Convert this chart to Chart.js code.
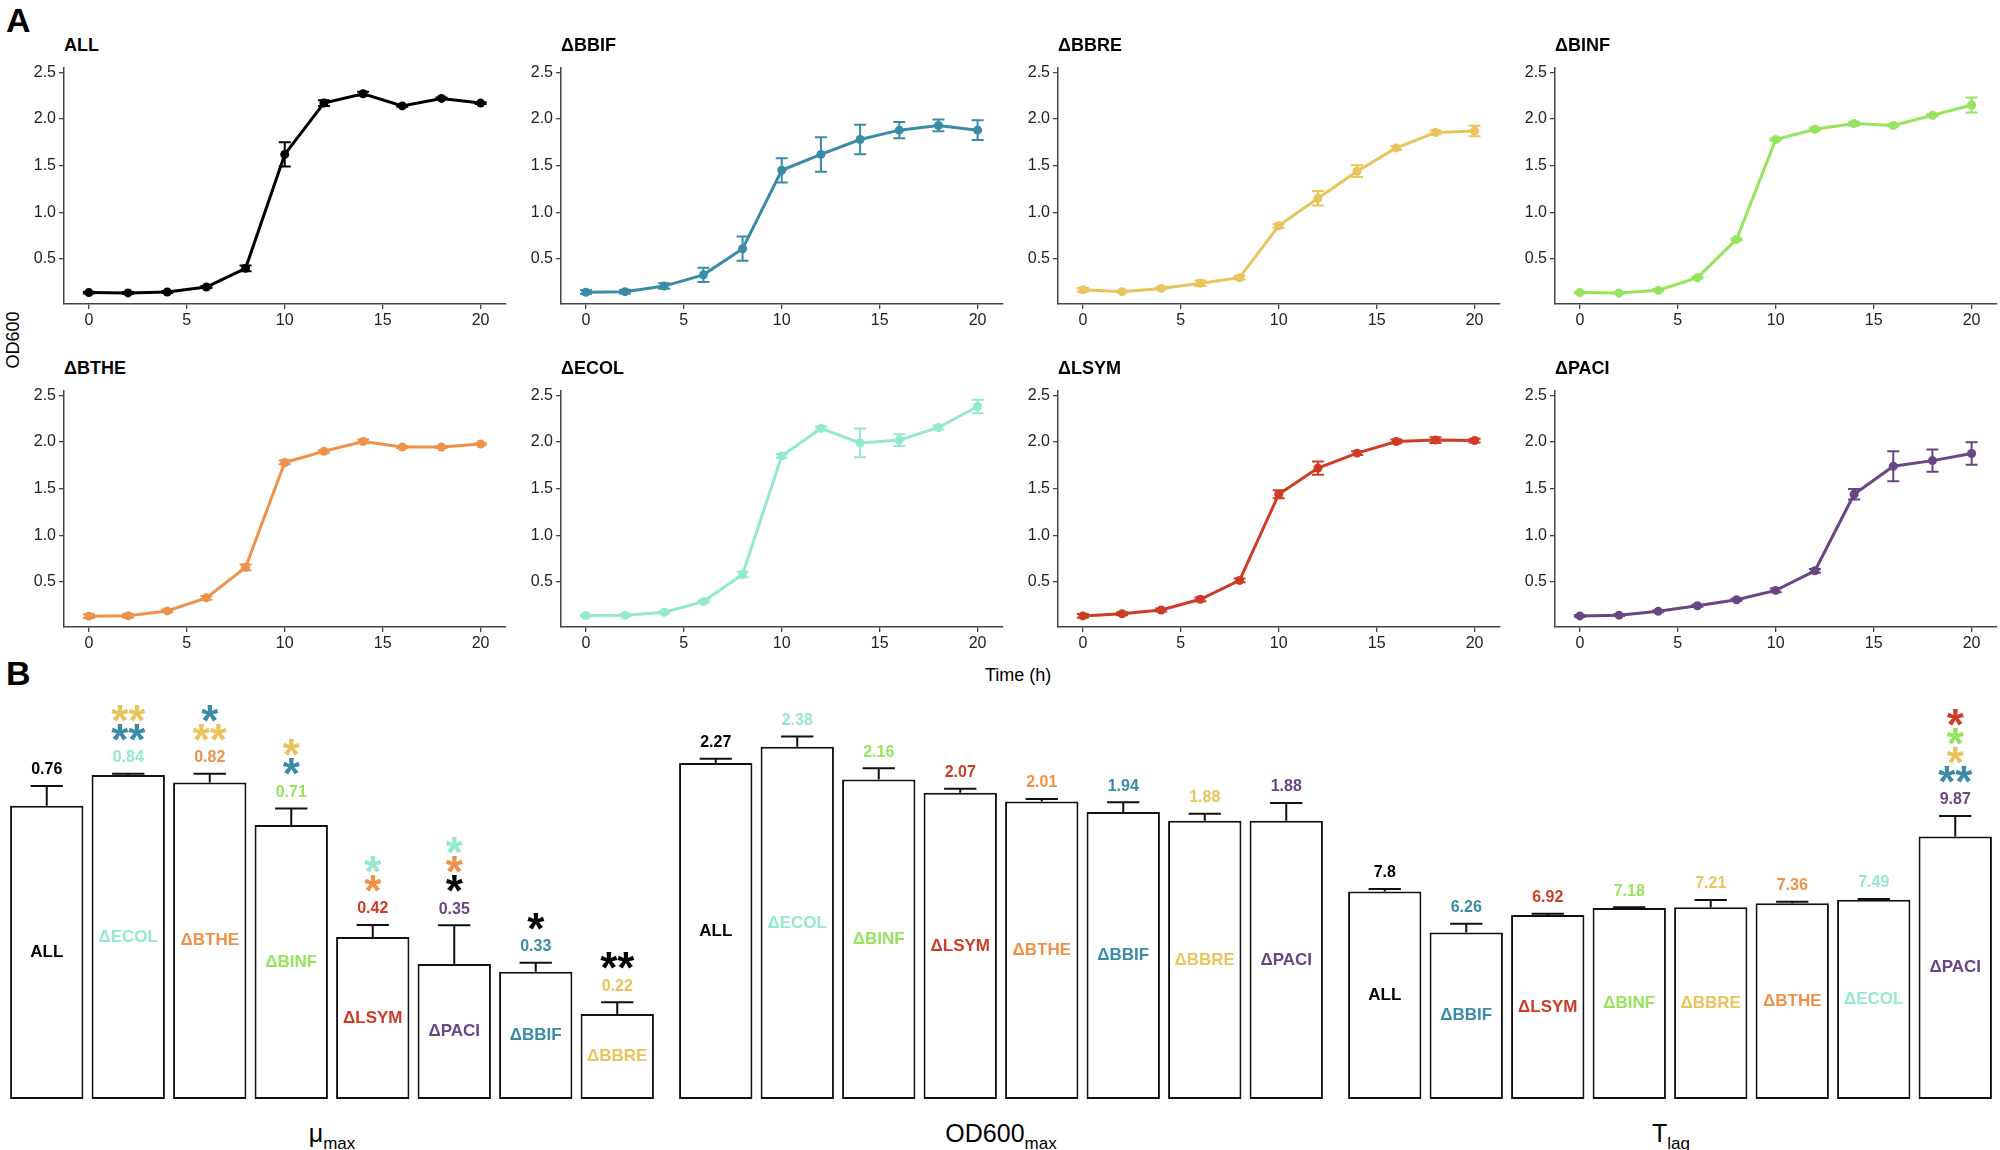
<!DOCTYPE html>
<html>
<head>
<meta charset="utf-8">
<script src="https://cdn.jsdelivr.net/npm/chart.js@4.4.1/dist/chart.umd.min.js"></script>
<style>
body{margin:0;background:#fff;font-family:"Liberation Sans",Arial,sans-serif;}
#fig{position:relative;width:2000px;height:1150px;overflow:hidden;background:#fff;}
#fig canvas{position:absolute;}
.t{position:absolute;white-space:nowrap;color:#000;line-height:1;}
.big{font-size:34px;font-weight:bold;}
.ttl{font-size:18px;font-weight:bold;}
.glab{font-size:25px;transform:translateX(-50%);}
.glab span{font-size:17px;position:relative;top:7px;}
</style>
</head>
<body>
<div id="fig">
  <div class="t big" style="left:6px;top:3px">A</div>
  <div class="t big" style="left:6px;top:656px">B</div>
  <div class="t" style="left:985px;top:666px;font-size:18px">Time (h)</div>
  <div class="t" style="left:-16px;top:331px;font-size:18px;transform:rotate(-90deg)">OD600</div>
  <div class="t glab" style="left:332px;top:1121px">μ<span>max</span></div>
  <div class="t glab" style="left:1001px;top:1121px">OD600<span>max</span></div>
  <div class="t glab" style="left:1671px;top:1121px">T<span>lag</span></div>
</div>
<script>
// ---------- growth curves (panel A) ----------
const timeH = [0, 2, 4, 6, 8, 10, 12, 14, 16, 18, 20]
const timeTicks = [0, 5, 10, 15, 20]
const odTicks = [0.5, 1.0, 1.5, 2.0, 2.5]

const odALL  = [0.14, 0.137, 0.147, 0.20, 0.40, 1.62, 2.17, 2.27, 2.14, 2.22, 2.17]
const sdALL  = [0.01, 0.01, 0.01, 0.01, 0.03, 0.13, 0.03, 0.02, 0.01, 0.01, 0.01]
const odBBIF = [0.144, 0.15, 0.21, 0.33, 0.61, 1.45, 1.62, 1.78, 1.88, 1.93, 1.88]
const sdBBIF = [0.02, 0.02, 0.03, 0.077, 0.13, 0.13, 0.185, 0.157, 0.087, 0.063, 0.105]
const odBBRE = [0.17, 0.15, 0.185, 0.24, 0.30, 0.856, 1.15, 1.44, 1.69, 1.855, 1.87]
const sdBBRE = [0.02, 0.01, 0.01, 0.03, 0.02, 0.02, 0.077, 0.063, 0.02, 0.02, 0.056]
const odBINF = [0.14, 0.137, 0.165, 0.30, 0.71, 1.78, 1.89, 1.95, 1.93, 2.04, 2.15]
const sdBINF = [0.01, 0.01, 0.01, 0.01, 0.01, 0.01, 0.015, 0.02, 0.01, 0.01, 0.08]
const odBTHE = [0.134, 0.138, 0.19, 0.33, 0.657, 1.78, 1.90, 2.005, 1.946, 1.946, 1.977]
const sdBTHE = [0.02, 0.02, 0.015, 0.02, 0.03, 0.02, 0.015, 0.02, 0.01, 0.01, 0.01]
const odECOL = [0.14, 0.145, 0.176, 0.29, 0.58, 1.85, 2.145, 1.99, 2.02, 2.155, 2.38]
const sdECOL = [0.01, 0.01, 0.01, 0.01, 0.03, 0.02, 0.02, 0.153, 0.063, 0.02, 0.073]
const odLSYM = [0.137, 0.16, 0.20, 0.315, 0.517, 1.44, 1.72, 1.88, 2.005, 2.02, 2.015]
const sdLSYM = [0.02, 0.015, 0.015, 0.02, 0.02, 0.042, 0.07, 0.02, 0.02, 0.03, 0.02]
const odPACI = [0.137, 0.145, 0.186, 0.245, 0.31, 0.41, 0.62, 1.44, 1.74, 1.80, 1.876]
const sdPACI = [0.01, 0.01, 0.01, 0.01, 0.01, 0.02, 0.02, 0.056, 0.16, 0.12, 0.12]

// ---------- summary bars (panel B) ----------
const muNames = ['ALL', 'ECOL', 'BTHE', 'BINF', 'LSYM', 'PACI', 'BBIF', 'BBRE']
const muVals  = [0.76, 0.84, 0.82, 0.71, 0.42, 0.35, 0.33, 0.22]
const muErr   = [0.051, 0.003, 0.023, 0.043, 0.031, 0.10, 0.023, 0.031]
const muStars = [[], [['**', 'BBIF'], ['**', 'BBRE']], [['**', 'BBRE'], ['*', 'BBIF']], [['*', 'BBIF'], ['*', 'BBRE']],
                 [['*', 'BTHE'], ['*', 'ECOL']], [['*', 'ALL'], ['*', 'BTHE'], ['*', 'ECOL']], [['*', 'ALL']], [['**', 'ALL']]]

const odmNames = ['ALL', 'ECOL', 'BINF', 'LSYM', 'BTHE', 'BBIF', 'BBRE', 'PACI']
const odmVals  = [2.27, 2.38, 2.16, 2.07, 2.01, 1.94, 1.88, 1.88]
const odmErr   = [0.029, 0.069, 0.076, 0.027, 0.018, 0.065, 0.047, 0.12]
const odmStars = [[], [], [], [], [], [], [], []]

const lagNames = ['ALL', 'BBIF', 'LSYM', 'BINF', 'BBRE', 'BTHE', 'ECOL', 'PACI']
const lagVals  = [7.8, 6.26, 6.92, 7.18, 7.21, 7.36, 7.49, 9.87]
const lagErr   = [0.1, 0.33, 0.05, 0.03, 0.27, 0.06, 0.03, 0.77]
const lagStars = [[], [], [], [], [], [], [], [['**', 'BBIF'], ['*', 'BBRE'], ['*', 'BINF'], ['*', 'LSYM']]]

// strain colours
const strainColor = {
    ALL: '#000000', BBIF: '#3a8ca6', BBRE: '#e9c35b', BINF: '#96e35e',
    BTHE: '#f09149', ECOL: '#93e9d0', LSYM: '#cf3b24', PACI: '#6a4584'
}
const FONT = '"Liberation Sans", Arial, sans-serif'
Chart.defaults.font.family = FONT
const fig = document.getElementById('fig')

function label(n) { return n == 'ALL' ? 'ALL' : '\u0394' + n }

/*------------------------------------------ error bars on growth curves ------------------------------------------*/
const curveErr = {
    id: 'curveErr',
    afterDatasetsDraw(chart) {
        let ctx = chart.ctx, xs = chart.scales.x, ys = chart.scales.y
        let ds = chart.data.datasets[0]
        ctx.save()
        ctx.strokeStyle = ds.borderColor
        ctx.lineWidth = 2
        ds.data.forEach((p, i) => {
            let e = ds.sd[i]
            let x = xs.getPixelForValue(p.x)
            let y1 = ys.getPixelForValue(p.y + e), y2 = ys.getPixelForValue(p.y - e)
            ctx.beginPath()
            ctx.moveTo(x, y1); ctx.lineTo(x, y2)
            ctx.moveTo(x - 6, y1); ctx.lineTo(x + 6, y1)
            ctx.moveTo(x - 6, y2); ctx.lineTo(x + 6, y2)
            ctx.stroke()
        })
        ctx.restore()
    }
}

const panels = [
    ['ALL', odALL, sdALL], ['BBIF', odBBIF, sdBBIF], ['BBRE', odBBRE, sdBBRE], ['BINF', odBINF, sdBINF],
    ['BTHE', odBTHE, sdBTHE], ['ECOL', odECOL, sdECOL], ['LSYM', odLSYM, sdLSYM], ['PACI', odPACI, sdPACI]
]

panels.forEach((p, idx) => {
    let name = p[0], row = Math.floor(idx / 4), col = idx % 4
    let top = row ? 378 : 55
    let cv = document.createElement('canvas')
    cv.width = 510; cv.height = 290
    cv.style.left = (col * 497) + 'px'
    cv.style.top = top + 'px'
    fig.appendChild(cv)

    let ttl = document.createElement('div')
    ttl.className = 't ttl'
    ttl.style.left = (col * 497 + 64) + 'px'
    ttl.style.top = (row ? 359 : 36) + 'px'
    ttl.textContent = label(name)
    fig.appendChild(ttl)

    let c = strainColor[name]
    let axisCommon = {
        grid: { display: true, drawOnChartArea: false, drawTicks: true, tickLength: 5, color: '#444', lineWidth: 1.3 },
        border: { display: true, color: '#444', width: 1.5 },
    }
    new Chart(cv, {
        type: 'line',
        data: {
            datasets: [{
                data: timeH.map((t, i) => ({ x: t, y: p[1][i] })),
                sd: p[2],
                borderColor: c, backgroundColor: c,
                borderWidth: 3, pointRadius: 4.5, pointBorderWidth: 0, tension: 0
            }]
        },
        options: {
            responsive: false, animation: false,
            layout: { padding: { top: 7, right: 3, left: 0, bottom: 0 } },
            plugins: { legend: { display: false }, tooltip: { enabled: false } },
            scales: {
                x: Object.assign({
                    type: 'linear', min: -1.27, max: 21.27,
                    afterBuildTicks: s => { s.ticks = timeTicks.map(v => ({ value: v })) },
                    afterFit: s => { s.height = 41 },
                    ticks: { font: { size: 16 }, color: '#222', maxRotation: 0, padding: 2, callback: v => v }
                }, axisCommon),
                y: Object.assign({
                    min: 0.018, max: 2.55,
                    afterBuildTicks: s => { s.ticks = odTicks.map(v => ({ value: v })) },
                    afterFit: s => { s.width = 64 },
                    ticks: { font: { size: 16 }, color: '#222', padding: 3, callback: v => v.toFixed(1) }
                }, axisCommon)
            }
        },
        plugins: [curveErr]
    })
})

/*------------------------------------------ bar annotations ------------------------------------------*/
const barNotes = {
    id: 'barNotes',
    afterDatasetsDraw(chart) {
        let ctx = chart.ctx, ys = chart.scales.y
        let ds = chart.data.datasets[0]
        let meta = chart.getDatasetMeta(0)
        ctx.save()
        meta.data.forEach((bar, i) => {
            let name = ds.names[i], col = strainColor[name]
            let v = ds.data[i], e = ds.err[i]
            let yTop = ys.getPixelForValue(v + e)
            let half = bar.width * 0.22
            // error bar
            ctx.strokeStyle = '#111'
            ctx.lineWidth = 2
            ctx.beginPath()
            ctx.moveTo(bar.x, bar.y); ctx.lineTo(bar.x, yTop)
            ctx.moveTo(bar.x - half, yTop); ctx.lineTo(bar.x + half, yTop)
            ctx.stroke()
            // value
            ctx.fillStyle = col
            ctx.textAlign = 'center'
            ctx.textBaseline = 'middle'
            ctx.font = 'bold 16px ' + FONT
            let vy = yTop - 16
            ctx.fillText(String(v), bar.x, vy)
            // strain name inside bar
            ctx.font = 'bold 17px ' + FONT
            ctx.fillText(label(name), bar.x, (bar.y + bar.base) / 2)
            // significance stars
            ctx.textBaseline = 'alphabetic'
            ctx.font = 'bold 44px ' + FONT
            ds.stars[i].forEach((s, k) => {
                let cy = vy - 28 - 19 * k
                ctx.fillStyle = strainColor[s[1]]
                ctx.fillText(s[0], bar.x, cy + 25)
            })
        })
        ctx.restore()
    }
}

function barGroup(left, names, vals, errs, stars, maxY) {
    let cv = document.createElement('canvas')
    cv.width = 652; cv.height = 419
    cv.style.left = left + 'px'
    cv.style.top = '680px'
    fig.appendChild(cv)
    new Chart(cv, {
        type: 'bar',
        data: {
            labels: names.map(label),
            datasets: [{
                data: vals, err: errs, names: names, stars: stars,
                backgroundColor: '#ffffff', borderColor: '#111', borderWidth: 2,
                borderSkipped: false, barPercentage: 0.9, categoryPercentage: 1.0
            }]
        },
        options: {
            responsive: false, animation: false,
            layout: { padding: { top: 10, left: 0, right: 0, bottom: 0 } },
            plugins: { legend: { display: false }, tooltip: { enabled: false } },
            scales: {
                x: { display: false },
                y: { display: false, min: 0, max: maxY }
            }
        },
        plugins: [barNotes]
    })
}

barGroup(6, muNames, muVals, muErr, muStars, 1.06)
barGroup(675, odmNames, odmVals, odmErr, odmStars, 2.764)
barGroup(1344, lagNames, lagVals, lagErr, lagStars, 15.38)
</script>
</body>
</html>
